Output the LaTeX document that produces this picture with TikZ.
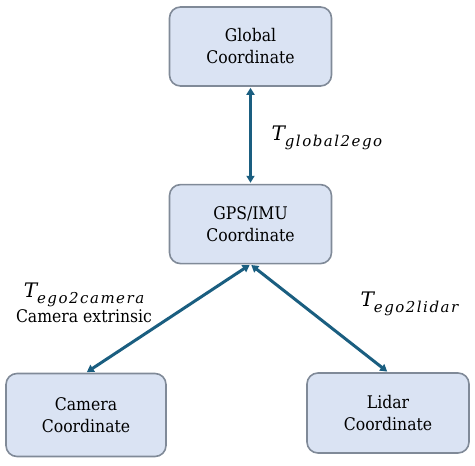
\documentclass[tikz,border=0pt]{standalone}
\usepackage{fontspec}
\IfFontExistsTF{DejaVu Serif Condensed}{\newfontfamily\boxfont{DejaVu Serif Condensed}\def\boxsize{17.4}}{\newfontfamily\boxfont{DejaVu Serif}\def\boxsize{15.6}}
\newfontfamily\tfont{DejaVu Serif}
\newfontfamily\subfont[LetterSpace=10]{DejaVu Serif}
\usepackage{tikz}
\usetikzlibrary{arrows.meta, positioning}
\definecolor{boxblue}{RGB}{218, 227, 243}
\definecolor{boxgray}{RGB}{128, 138, 152}
\definecolor{arrowteal}{RGB}{26, 94, 128}
\newcommand{\tname}[1]{{\tfont\itshape\fontsize{20}{20}\selectfont T\raisebox{-6pt}{\subfont\itshape\fontsize{15}{15}\selectfont #1}}}

\begin{document}
\begin{tikzpicture}[
			x=1pt, y=1pt,
			coord/.style={rectangle, draw=boxgray, line width=1.6pt, fill=boxblue, minimum width=162pt, minimum height=79pt, align=center, rounded corners=11pt, font=\boxfont\fontsize{\boxsize}{22}\selectfont},
			link/.style={{Triangle[length=7pt, width=8pt]}-{Triangle[length=7pt, width=8pt]}, line width=3pt, draw=arrowteal, shorten <=1pt, shorten >=1pt}
		]
		\useasboundingbox (0,0) rectangle (475,466);
		\node[coord] (global) at (250.5,419.5) {Global\\Coordinate};
		\node[coord, below=97pt of global] (gps) {GPS/IMU\\Coordinate};
		\node[coord, minimum width=160pt, minimum height=83pt] (camera) at (86,51) {Camera\\Coordinate};
		\node[coord, minimum height=80pt] (lidar) at (388,53) {Lidar\\Coordinate};
		
		\draw[link] (global) -- (gps);
		\draw[link] (gps.south) -- (camera.north);
		\draw[link] (gps.south) -- (lidar.north);
		
		\node[anchor=west] (tglobal) at (268,328) {\tname{global2ego}};
		\node (tcamera) at (84,171) {\tname{ego2camera}};
		\node[below=-4pt of tcamera, font=\boxfont\fontsize{\boxsize}{22}\selectfont] (extrinsic) {Camera extrinsic};
		\node[anchor=west] (tlidar) at (357,162) {\tname{ego2lidar}};
		\end{tikzpicture}
\end{document}
